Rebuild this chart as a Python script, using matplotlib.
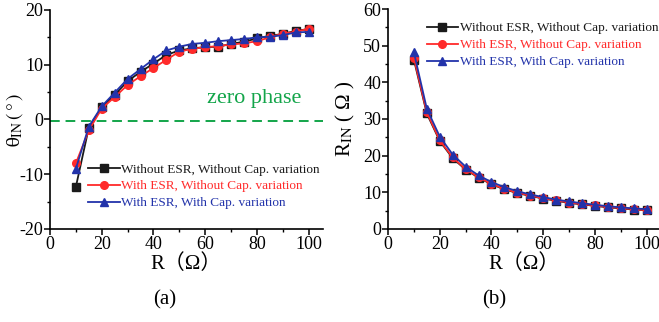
import matplotlib.pyplot as plt
from matplotlib.ticker import MultipleLocator

plt.rcParams['font.family'] = ['Liberation Serif', 'Noto Sans CJK SC']
plt.rcParams['mathtext.fontset'] = 'stix'
plt.rcParams['axes.unicode_minus'] = False

r = [10, 15, 20, 25, 30, 35, 40, 45, 50, 55, 60, 65, 70, 75, 80, 85, 90, 95, 100]

theta_black = [-12.3, -1.5, 2.2, 4.5, 7.0, 8.7, 10.2, 11.8, 12.6, 13.0, 13.2, 13.3,
               13.8, 14.2, 14.8, 15.3, 15.6, 16.2, 16.5]
theta_red = [-8.0, -2.0, 2.0, 4.1, 6.3, 7.9, 9.4, 10.9, 12.4, 12.9, 13.2, 13.4,
             13.7, 13.9, 14.3, 15.0, 15.7, 16.0, 16.6]
theta_blue = [-9.0, -1.3, 2.4, 4.9, 7.4, 9.2, 11.0, 12.6, 13.3, 13.8, 14.0, 14.3,
              14.5, 14.7, 15.0, 15.1, 15.4, 15.9, 16.0]

rin_black = [46.2, 31.5, 24.0, 19.3, 16.2, 14.0, 12.2, 10.8, 9.8, 9.0, 8.3, 7.7,
             7.1, 6.7, 6.3, 5.9, 5.6, 5.3, 5.1]
rin_red = [46.7, 31.8, 24.2, 19.5, 16.3, 14.1, 12.3, 10.9, 9.9, 9.1, 8.4, 7.8,
           7.2, 6.8, 6.4, 6.0, 5.7, 5.4, 5.1]
rin_blue = [48.2, 32.8, 25.2, 20.3, 17.0, 14.6, 12.8, 11.4, 10.3, 9.4, 8.7, 8.0,
            7.5, 7.0, 6.6, 6.2, 5.9, 5.6, 5.4]

labels = ['Without ESR, Without Cap. variation',
          'With ESR, Without Cap. variation',
          'With ESR, With Cap. variation']
colors = ['#1a1a1a', '#ff2a2a', '#2233aa']
markers = ['s', 'o', '^']

fig = plt.figure(figsize=(6.59, 3.22), dpi=100)
ax1 = fig.add_axes([0.0759, 0.289, 0.414, 0.680])
ax2 = fig.add_axes([0.5888, 0.289, 0.414, 0.683])


def style(ax):
    for s in ['top', 'right']:
        ax.spines[s].set_visible(False)
    ax.spines['left'].set_linewidth(1.2)
    ax.spines['bottom'].set_linewidth(1.2)
    ax.tick_params(direction='out', length=4, width=1.1, labelsize=13, pad=1)
    ax.tick_params(which='minor', direction='out', length=2.5, width=1.0)
    ax.xaxis.set_major_locator(MultipleLocator(20))
    ax.xaxis.set_minor_locator(MultipleLocator(10))
    ax.set_xlim(0, 105.5)
    ax.set_xlabel('R（Ω）', fontsize=15, labelpad=1)


# (a) phase
for y, c, m, lab in zip([theta_black, theta_red, theta_blue], colors, markers, labels):
    ax1.plot(r, y, color=c, marker=m, markersize=5.5, linewidth=1.3, label=lab)
ax1.axhline(-0.3, color='#13a54a', linestyle=(0, (5, 3)), linewidth=1.4)
ax1.text(79, 3.8, 'zero phase', color='#13a54a', fontsize=16,
         ha='center', va='center')
style(ax1)
ax1.set_ylim(-20, 20)
ax1.yaxis.set_major_locator(MultipleLocator(10))
ax1.yaxis.set_minor_locator(MultipleLocator(5))
ax1.set_ylabel(r'$\mathrm{θ}_{\rm IN}\,(\,°\,)$', fontsize=14)
ax1.yaxis.set_label_coords(-0.093, 0.5)
leg1 = ax1.legend(loc='upper left', bbox_to_anchor=(0.115, 0.33), frameon=False,
                  fontsize=9.5, handlelength=2.4, handletextpad=0.1,
                  labelspacing=0.35, borderpad=0)
for t, c in zip(leg1.get_texts(), colors):
    t.set_color(c)

# (b) input resistance
for y, c, m, lab in zip([rin_black, rin_red, rin_blue], colors, markers, labels):
    ax2.plot(r, y, color=c, marker=m, markersize=5.5, linewidth=1.3, label=lab)
style(ax2)
ax2.set_ylim(0, 60)
ax2.yaxis.set_major_locator(MultipleLocator(10))
ax2.yaxis.set_minor_locator(MultipleLocator(5))
ax2.set_ylabel(r'R$_{\rm IN}$ ( Ω )', fontsize=15)
ax2.yaxis.set_label_coords(-0.115, 0.5)
leg2 = ax2.legend(loc='upper left', bbox_to_anchor=(0.117, 0.97), frameon=False,
                  fontsize=9.5, handlelength=2.4, handletextpad=0.1,
                  labelspacing=0.35, borderpad=0)
for t, c in zip(leg2.get_texts(), colors):
    t.set_color(c)

fig.text(0.250, 0.068, '(a)', fontsize=15, ha='center', va='center')
fig.text(0.750, 0.068, '(b)', fontsize=15, ha='center', va='center')

fig.savefig('out.png', dpi=100)
